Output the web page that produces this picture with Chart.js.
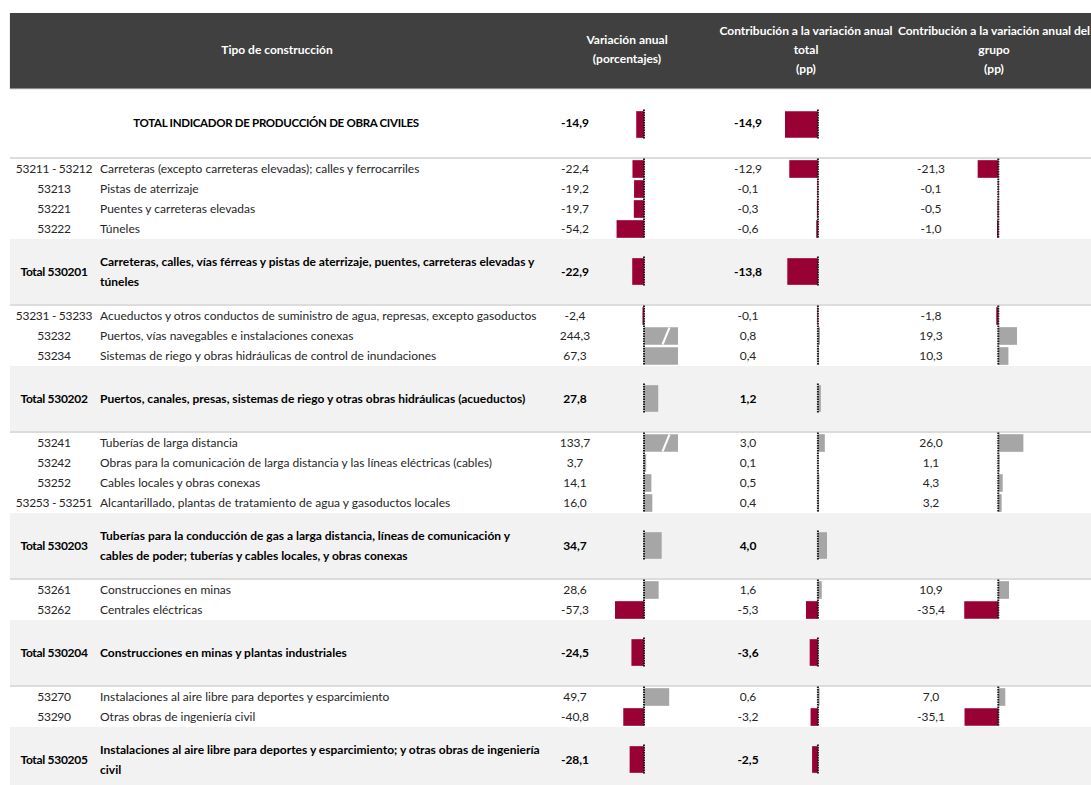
<!DOCTYPE html>
<html>
<head>
<meta charset="utf-8">
<script src="https://cdn.jsdelivr.net/npm/chart.js@4.4.1/dist/chart.umd.min.js"></script>
<style>
  body { margin: 0; background: #fff; font-family: Lato, "Noto Sans", sans-serif; }
  #page { position: relative; width: 1091px; height: 785px; overflow: hidden; }
  .abs { position: absolute; }
  .hdr { left: 10px; top: 13px; width: 1081px; height: 75px; background: #404040; box-shadow: 0 1px 1px #8c8c8c; }
  .htxt { color: #fff; font-weight: bold; font-size: 12px; line-height: 19px; white-space: nowrap; transform: translate(-50%, -50%); }
  .band { left: 10px; width: 1081px; background: #f2f2f2; }
  .sep { left: 10px; width: 1081px; height: 2px; background: #dcdcdc; }
  .cell { font-size: 12px; color: #262626; line-height: 20px; white-space: pre; display: flex; align-items: center; }
  .center { justify-content: center; text-align: center; }
  .bold { font-weight: bold; color: #000; }
  .grand { font-size: 11.5px; letter-spacing: -0.3px; }
  .code { letter-spacing: -0.3px; }
  canvas { position: absolute; }
</style>
</head>
<body>
<div id="page"></div>
<script>
// rows in display order; first row is the grand total, "Total ..." rows are group totals
const codes = [
  '', '53211 - 53212', '53213', '53221', '53222', 'Total 530201',
  '53231 - 53233', '53232', '53234', 'Total 530202',
  '53241', '53242', '53252', '53253 - 53251', 'Total 530203',
  '53261', '53262', 'Total 530204',
  '53270', '53290', 'Total 530205'
]
const labels = [
  'TOTAL INDICADOR DE PRODUCCIÓN DE OBRA CIVILES',
  'Carreteras (excepto carreteras elevadas); calles y ferrocarriles',
  'Pistas de aterrizaje',
  'Puentes y carreteras elevadas',
  'Túneles',
  'Carreteras, calles, vías férreas y pistas de aterrizaje, puentes, carreteras elevadas y\ntúneles',
  'Acueductos y otros conductos de suministro de agua, represas, excepto gasoductos',
  'Puertos, vías navegables e instalaciones conexas',
  'Sistemas de riego y obras hidráulicas de control de inundaciones',
  'Puertos, canales, presas, sistemas de riego y otras obras hidráulicas (acueductos)',
  'Tuberías de larga distancia',
  'Obras para la comunicación de larga distancia y las líneas eléctricas (cables)',
  'Cables locales y obras conexas',
  'Alcantarillado, plantas de tratamiento de agua y gasoductos locales',
  'Tuberías para la conducción de gas a larga distancia, líneas de comunicación y\ncables de poder; tuberías y cables locales, y obras conexas',
  'Construcciones en minas',
  'Centrales eléctricas',
  'Construcciones en minas y plantas industriales',
  'Instalaciones al aire libre para deportes y esparcimiento',
  'Otras obras de ingeniería civil',
  'Instalaciones al aire libre para deportes y esparcimiento; y otras obras de ingeniería\ncivil'
]
const variacionAnual = [-14.9, -22.4, -19.2, -19.7, -54.2, -22.9, -2.4, 244.3, 67.3, 27.8,
  133.7, 3.7, 14.1, 16.0, 34.7, 28.6, -57.3, -24.5, 49.7, -40.8, -28.1]
const contribTotal = [-14.9, -12.9, -0.1, -0.3, -0.6, -13.8, -0.1, 0.8, 0.4, 1.2,
  3.0, 0.1, 0.5, 0.4, 4.0, 1.6, -5.3, -3.6, 0.6, -3.2, -2.5]
const contribGrupo = [null, -21.3, -0.1, -0.5, -1.0, null, -1.8, 19.3, 10.3, null,
  26.0, 1.1, 4.3, 3.2, null, 10.9, -35.4, null, 7.0, -35.1, null]

const headers = [
  { lines: ['Tipo de construcción'], x: 277, y: 49 },
  { lines: ['Variación anual', '(porcentajes)'], x: 627, y: 49 },
  { lines: ['Contribución a la variación anual', 'total', '(pp)'], x: 806, y: 49 },
  { lines: ['Contribución a la variación anual del', 'grupo', '(pp)'], x: 994, y: 49 }
]

const NEG = '#990033'
const POS = '#a6a6a6'
const page = document.getElementById('page')

function el(cls, css, text) {
  const d = document.createElement('div')
  d.className = 'abs ' + cls
  Object.assign(d.style, css)
  if (text !== undefined) d.textContent = text
  page.appendChild(d)
  return d
}
const fmt = v => v.toFixed(1).replace('.', ',')

// row layout
const rows = []
let y = 159
codes.forEach((c, i) => {
  if (i === 0) { rows.push({ kind: 'grand', top: 90, h: 66 }); return }
  if (c.startsWith('Total')) { rows.push({ kind: 'total', top: y, h: 65 }); y += 67 }
  else { rows.push({ kind: 'item', top: y, h: 20 }); y += 20 }
})
rows.forEach(r => r.center = r.top + r.h / 2)
rows[0].center = 124.5

// backgrounds
el('hdr', {})
headers.forEach(h => {
  el('htxt', { left: h.x + 'px', top: h.y + 'px', textAlign: 'center' }).innerHTML = h.lines.join('<br>')
})
el('sep', { top: '157px' })
rows.forEach(r => {
  if (r.kind === 'total') {
    el('band', { top: r.top + 'px', height: r.h + 'px' })
    el('sep', { top: (r.top + r.h) + 'px' })
  }
})

// texts
const valueCols = [
  { values: variacionAnual, cx: 575 },
  { values: contribTotal, cx: 748 },
  { values: contribGrupo, cx: 931 }
]
rows.forEach((r, i) => {
  const bold = r.kind !== 'item' ? ' bold' : ''
  const pos = { top: r.top + 'px', height: r.h + 'px' }
  if (r.kind === 'grand') {
    el('cell center grand' + bold, { ...pos, left: '10px', width: '532px' }, labels[i])
  } else {
    el('cell center code' + bold, { ...pos, left: '10px', width: '88px' }, codes[i])
    el('cell' + bold, { ...pos, left: '100px', width: '450px' }, labels[i])
  }
  valueCols.forEach(col => {
    const v = col.values[i]
    if (v === null) return
    el('cell center' + bold, { ...pos, left: (col.cx - 40) + 'px', width: '80px' }, fmt(v))
  })
})

// blocks of consecutive rows sharing one zero line
const blocks = []
rows.forEach((r, i) => {
  const last = blocks[blocks.length - 1]
  if (r.kind === 'item' && last && rows[last[0]].kind === 'item' && last[last.length - 1] === i - 1) last.push(i)
  else blocks.push([i])
})

const CANVAS_TOP = 90
const CANVAS_H = 695

const zeroLine = {
  id: 'zeroLine',
  afterDatasetsDraw(chart, args, opts) {
    const { ctx, scales } = chart
    const area = chart.chartArea
    // broken bars (value beyond the axis)
    chart.data.datasets.forEach((ds, di) => {
      chart.getDatasetMeta(di).data.forEach((bar, j) => {
        if (ds.data[j].x <= scales.x.max) return
        const cx = area.right - 12
        const h = bar.height
        ctx.save()
        ctx.strokeStyle = '#fff'
        ctx.lineWidth = 2
        ctx.beginPath()
        ctx.moveTo(cx - 3.5, bar.y + h / 2)
        ctx.lineTo(cx + 3.5, bar.y - h / 2)
        ctx.stroke()
        ctx.restore()
      })
    })
    const x0 = scales.x.getPixelForValue(0)
    ctx.save()
    ctx.strokeStyle = '#1e1e1e'
    ctx.lineWidth = 2
    ctx.setLineDash([1.5, 1])
    opts.blocks.forEach(b => {
      const first = rows[b[0]], last = rows[b[b.length - 1]]
      const t1 = first.kind === 'item' ? 17 : 26
      const top = scales.y.getPixelForValue(first.center - CANVAS_TOP) - t1 / 2 - 2
      const bot = scales.y.getPixelForValue(last.center - CANVAS_TOP) + t1 / 2 + 1
      ctx.beginPath()
      ctx.moveTo(x0, top)
      ctx.lineTo(x0, bot)
      ctx.stroke()
    })
    ctx.restore()
  }
}

function drawBars(values, left, width, min, max) {
  const canvas = document.createElement('canvas')
  canvas.width = width
  canvas.height = CANVAS_H
  canvas.style.left = left + 'px'
  canvas.style.top = CANVAS_TOP + 'px'
  canvas.style.width = width + 'px'
  canvas.style.height = CANVAS_H + 'px'
  page.appendChild(canvas)

  const pts = kind => rows.map((r, i) => ({ r, i }))
    .filter(o => (kind === 'item' ? o.r.kind === 'item' : o.r.kind !== 'item') && values[o.i] !== null)
    .map(o => ({ x: values[o.i], y: o.r.center - CANVAS_TOP }))
  const color = c => (c.raw && c.raw.x < 0 ? NEG : POS)

  const myBlocks = blocks.filter(b => b.some(i => values[i] !== null))

  new Chart(canvas.getContext('2d'), {
    type: 'bar',
    data: {
      datasets: [
        { data: pts('item'), barThickness: 17, backgroundColor: color, stack: 'rows', clip: 0 },
        { data: pts('total'), barThickness: 26, backgroundColor: color, stack: 'rows', clip: 0 }
      ]
    },
    options: {
      indexAxis: 'y',
      responsive: false,
      maintainAspectRatio: false,
      devicePixelRatio: 1,
      animation: false,
      layout: { padding: 0 },
      scales: {
        x: { type: 'linear', min: min, max: max, display: false, offset: false },
        y: { type: 'linear', min: 0, max: CANVAS_H, reverse: true, display: false, offset: false, grid: { offset: false } }
      },
      plugins: {
        legend: { display: false },
        tooltip: { enabled: false },
        zeroLine: { blocks: myBlocks }
      }
    },
    plugins: [zeroLine]
  })
}

drawBars(variacionAnual, 615, 63, -58, 68)
drawBars(contribTotal, 785, 43, -15, 4.6)
drawBars(contribGrupo, 964, 60, -36, 27)
</script>
</body>
</html>
